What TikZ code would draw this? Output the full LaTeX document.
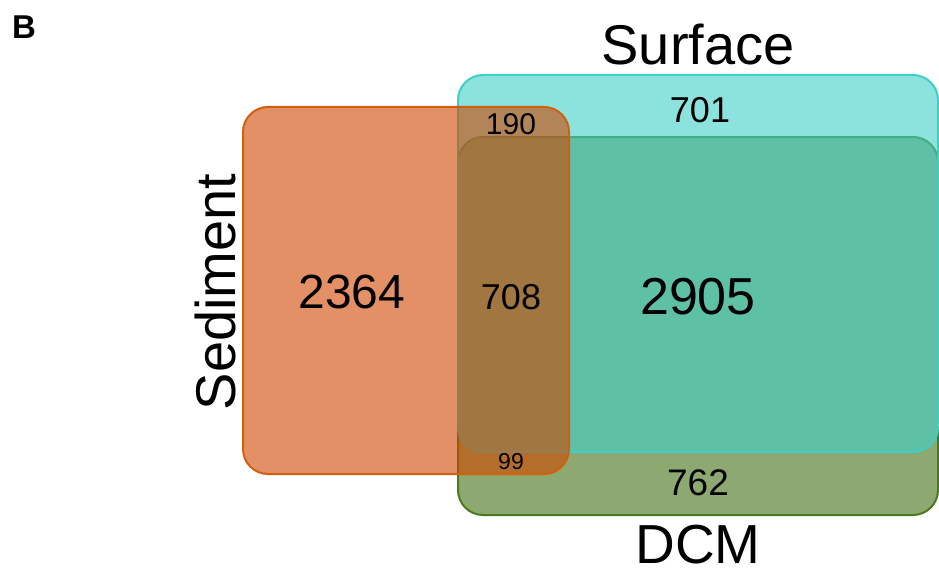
\documentclass[tikz,border=0pt]{standalone}
\usepackage{fontspec}
\setmainfont{Liberation Sans}
\definecolor{dcmc}{RGB}{65,110,17}
\definecolor{dcme}{RGB}{74,122,32}
\definecolor{surfc}{RGB}{63,208,200}
\definecolor{surfe}{RGB}{64,206,198}
\definecolor{sedc}{RGB}{208,70,0}
\definecolor{sede}{RGB}{208,96,16}
\tikzset{
  setbox/.style={rounded corners=25pt, line width=2pt, fill opacity=0.6},
  lbl/.style={inner sep=0pt, text=black},
}
\begin{document}
\begin{tikzpicture}[x=1pt,y=-1pt]
\useasboundingbox (0,0) rectangle (939,575);
\draw[setbox, draw=dcme, fill=dcmc] (458,137) rectangle (938,515);
\draw[setbox, draw=surfe, fill=surfc] (458,75) rectangle (938,452);
\draw[setbox, draw=sede, fill=sedc] (243,107) rectangle (569,474);
\node[lbl, font=\bfseries\fontsize{33}{36}\selectfont] (B) at (24,27) {B};
\node[lbl, font=\fontsize{56}{60}\selectfont] (surf) at (698,45) {Surface};
\node[lbl, font=\fontsize{55}{60}\selectfont] (dcm) at (698,545) {DCM};
\node[lbl, font=\fontsize{56}{60}\selectfont, rotate=90] (sed) at (215,292) {Sediment};
\node[lbl, font=\fontsize{48}{52}\selectfont] (n2364) at (352,292) {2364};
\node[lbl, font=\fontsize{52}{56}\selectfont] (n2905) at (698,297) {2905};
\node[lbl, font=\fontsize{36}{40}\selectfont] (n708) at (511,297) {708};
\node[lbl, font=\fontsize{36}{40}\selectfont] (n701) at (700,110) {701};
\node[lbl, font=\fontsize{30}{34}\selectfont] (n190) at (511,124) {190};
\node[lbl, font=\fontsize{23}{26}\selectfont] (n99) at (511,462) {99};
\node[lbl, font=\fontsize{37}{40}\selectfont] (n762) at (698,483) {762};
\end{tikzpicture}
\end{document}
